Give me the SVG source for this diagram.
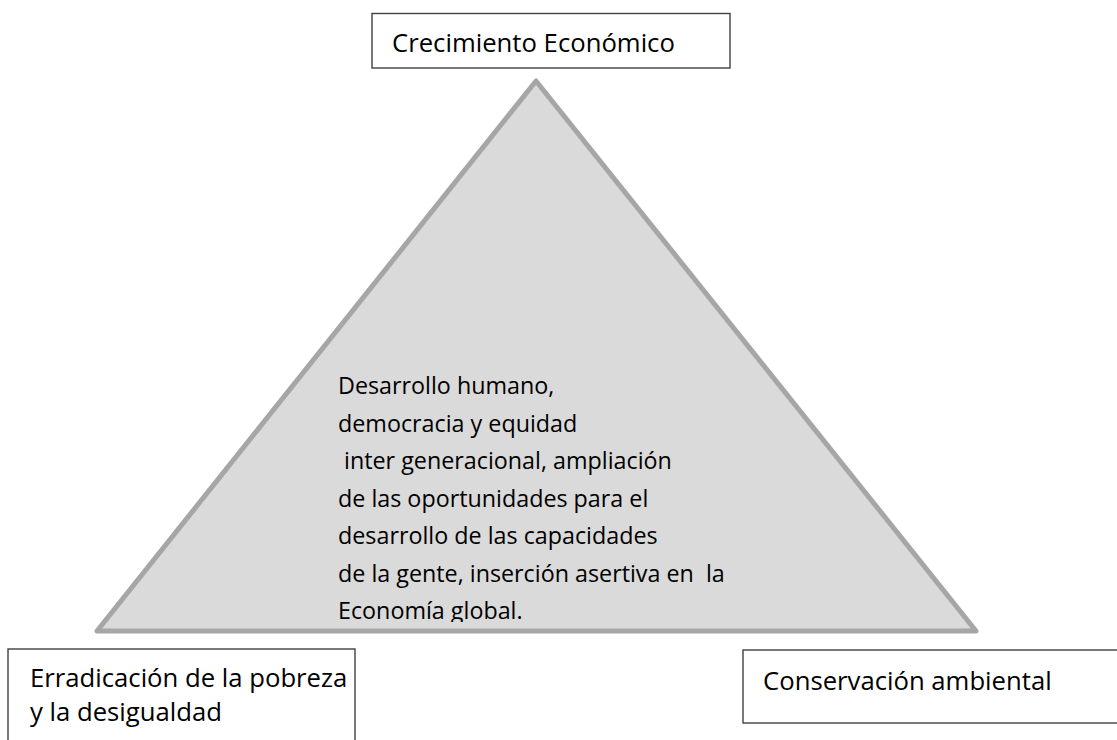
<svg xmlns="http://www.w3.org/2000/svg" width="1117" height="740" viewBox="0 0 1117 740">
  <style>
    .box { fill: #ffffff; stroke: #404040; stroke-width: 1.4; }
    .lbl { font-family: "Open Sans", "Liberation Sans", sans-serif; font-size: 25.7px; fill: #000000; }
    .body { font-family: "Open Sans", "Liberation Sans", sans-serif; font-size: 23.3px; fill: #000000; white-space: pre; }
    .tri { fill: #dadada; stroke: #a6a6a6; stroke-width: 5; stroke-linejoin: round; }
  </style>
  <defs>
    <clipPath id="bodyClip">
      <rect x="320" y="350" width="440" height="272"/>
    </clipPath>
  </defs>
  <rect width="1117" height="740" fill="#ffffff"/>

  <g id="triangle">
    <polygon class="tri" points="536,81 97,631 976,631"/>
    <g clip-path="url(#bodyClip)">
      <text class="body" xml:space="preserve">
        <tspan x="338" y="394">Desarrollo humano,</tspan>
        <tspan x="338" y="431.5">democracia y equidad</tspan>
        <tspan x="338" y="469"> inter generacional, ampliación</tspan>
        <tspan x="338" y="506.5">de las oportunidades para el</tspan>
        <tspan x="338" y="544">desarrollo de las capacidades</tspan>
        <tspan x="338" y="581.5">de la gente, inserción asertiva en  la</tspan>
        <tspan x="338" y="619">Economía global.</tspan>
      </text>
    </g>
  </g>

  <g id="node-crecimiento">
    <rect class="box" x="372" y="13.5" width="358" height="54.5"/>
    <text class="lbl" x="392" y="52">Crecimiento Económico</text>
  </g>

  <g id="node-erradicacion">
    <rect class="box" x="8" y="649" width="347" height="120"/>
    <text class="lbl" x="30" y="687">Erradicación de la pobreza</text>
    <text class="lbl" x="30" y="721">y la desigualdad</text>
  </g>

  <g id="node-conservacion">
    <rect class="box" x="743" y="650" width="400" height="73"/>
    <text class="lbl" x="763" y="690">Conservación ambiental</text>
  </g>

  <g id="connectors"/>
</svg>
